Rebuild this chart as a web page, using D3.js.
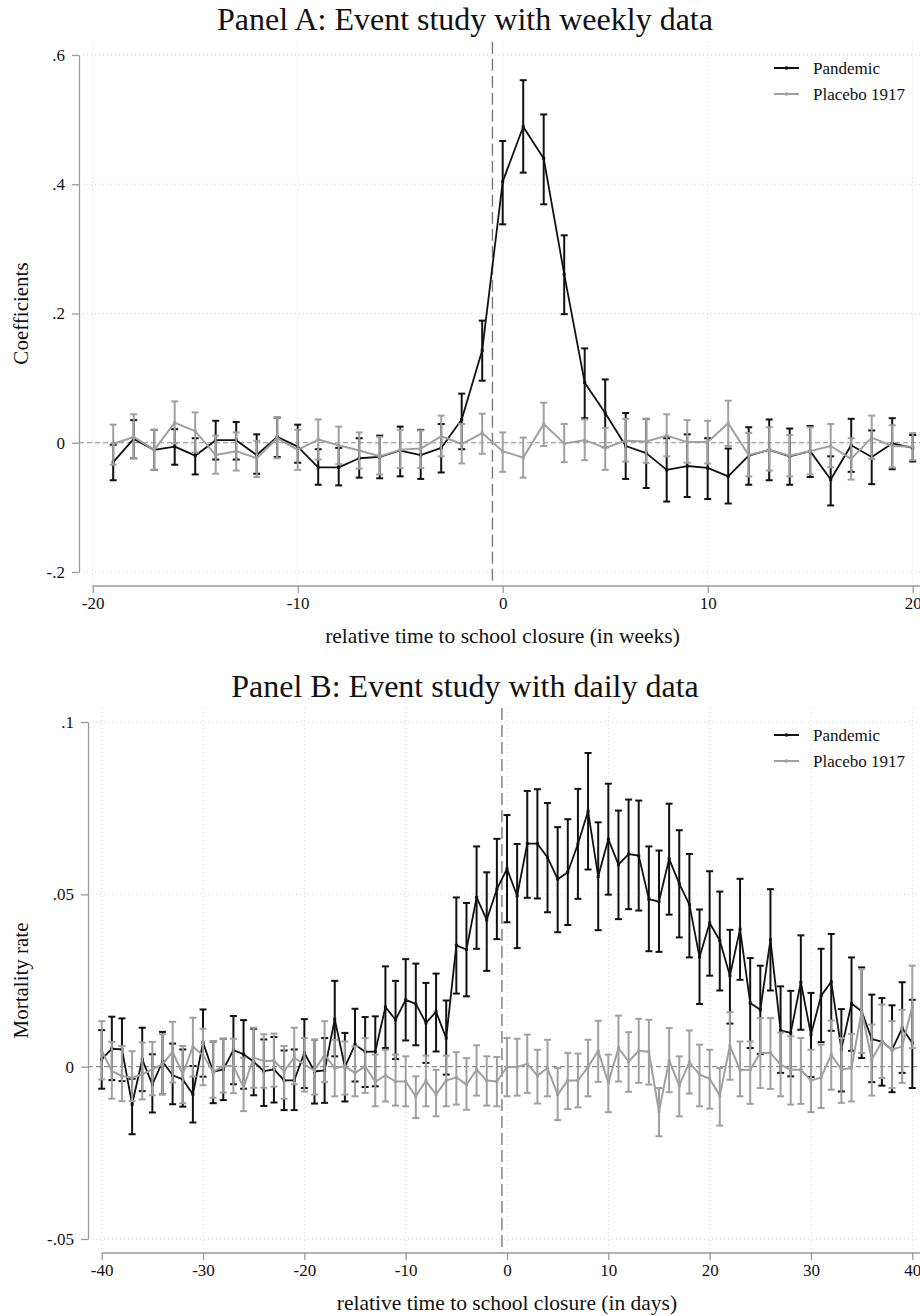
<!DOCTYPE html>
<html>
<head>
<meta charset="utf-8">
<script src="https://cdn.jsdelivr.net/npm/d3@7"></script>
<style>
  body { margin: 0; background: #fff; }
  text { font-family: "Liberation Serif", "Times New Roman", serif; fill: #111; }
</style>
</head>
<body>
<svg id="chart" width="920" height="1316"></svg>
<script>
// event time (weeks / days relative to school closure)
var weeks = [-19, -18, -17, -16, -15, -14, -13, -12, -11, -10, -9, -8, -7, -6, -5, -4, -3, -2, -1,
    0, 1, 2, 3, 4, 5, 6, 7, 8, 9, 10, 11, 12, 13, 14, 15, 16, 17, 18, 19, 20];
var days = [-40, -39, -38, -37, -36, -35, -34, -33, -32, -31, -30, -29, -28, -27, -26, -25, -24, -23, -22, -21,
    -20, -19, -18, -17, -16, -15, -14, -13, -12, -11, -10, -9, -8, -7, -6, -5, -4, -3, -2, -1,
    0, 1, 2, 3, 4, 5, 6, 7, 8, 9, 10, 11, 12, 13, 14, 15, 16, 17, 18, 19, 20,
    21, 22, 23, 24, 25, 26, 27, 28, 29, 30, 31, 32, 33, 34, 35, 36, 37, 38, 39, 40];

// Panel A: weekly coefficients
var weeklyPandemic = [-0.030, 0.006, -0.011, -0.006, -0.020, 0.004, 0.004, -0.019, 0.009, -0.006, -0.038, -0.038, -0.024, -0.022, -0.012, -0.019, -0.008, 0.036, 0.143,
    0.404, 0.489, 0.440, 0.261, 0.093, 0.046, -0.005, -0.016, -0.042, -0.036, -0.039, -0.052, -0.020, -0.011, -0.021, -0.013, -0.057, -0.004, -0.022, -0.001, -0.008];
var weeklyPandemicHi = [-0.003, 0.035, 0.020, 0.021, 0.007, 0.034, 0.032, 0.013, 0.039, 0.028, -0.010, -0.008, 0.007, 0.011, 0.025, 0.020, 0.029, 0.076, 0.189,
    0.467, 0.561, 0.508, 0.321, 0.146, 0.098, 0.046, 0.037, 0.007, 0.013, 0.007, -0.009, 0.024, 0.036, 0.022, 0.026, -0.021, 0.037, 0.019, 0.038, 0.012];
var weeklyPandemicLo = [-0.058, -0.024, -0.042, -0.034, -0.049, -0.026, -0.026, -0.048, -0.022, -0.031, -0.065, -0.066, -0.054, -0.055, -0.052, -0.056, -0.046, -0.010, 0.096,
    0.338, 0.418, 0.369, 0.199, 0.038, -0.007, -0.056, -0.070, -0.091, -0.084, -0.087, -0.094, -0.065, -0.058, -0.065, -0.053, -0.097, -0.045, -0.064, -0.041, -0.029];

var weeklyPlacebo = [-0.002, 0.009, -0.011, 0.031, 0.018, -0.019, -0.013, -0.024, 0.007, -0.011, 0.005, -0.004, -0.012, -0.021, -0.011, -0.009, 0.010, -0.002, 0.015,
    -0.013, -0.023, 0.029, -0.001, 0.004, -0.008, 0.003, 0.002, 0.011, 0.001, 0.001, 0.030, -0.019, -0.011, -0.020, -0.013, -0.005, -0.025, 0.008, -0.005, -0.006];
var weeklyPlaceboHi = [0.028, 0.044, 0.020, 0.064, 0.047, 0.011, 0.016, 0.003, 0.039, 0.020, 0.036, 0.025, 0.016, 0.009, 0.020, 0.019, 0.042, 0.029, 0.045,
    0.016, 0.008, 0.062, 0.029, 0.036, 0.023, 0.037, 0.037, 0.044, 0.035, 0.034, 0.065, 0.015, 0.024, 0.012, 0.024, 0.029, 0.007, 0.042, 0.027, 0.015];
var weeklyPlaceboLo = [-0.034, -0.024, -0.042, -0.001, -0.015, -0.048, -0.043, -0.053, -0.024, -0.042, -0.026, -0.033, -0.040, -0.049, -0.039, -0.039, -0.021, -0.032, -0.017,
    -0.045, -0.054, -0.005, -0.030, -0.027, -0.042, -0.029, -0.031, -0.021, -0.031, -0.032, -0.005, -0.052, -0.043, -0.052, -0.049, -0.038, -0.057, -0.025, -0.038, -0.027];

// Panel B: daily mortality rate
var dailyPandemic = [0.0021, 0.0052, 0.0050, -0.0109, 0.0021, -0.0052, 0.0015, -0.0025, -0.0037, -0.0080, 0.0070, -0.0015, -0.0008, 0.0048, 0.0036, 0.0014, -0.0013, -0.0008, -0.0040, -0.0040,
    0.0040, -0.0014, -0.0011, 0.0138, -0.0001, 0.0064, 0.0043, 0.0044, 0.0173, 0.0136, 0.0194, 0.0182, 0.0127, 0.0159, 0.0083, 0.0352, 0.0340, 0.0491, 0.0426, 0.0515,
    0.0574, 0.0496, 0.0647, 0.0647, 0.0607, 0.0544, 0.0564, 0.0646, 0.0741, 0.0552, 0.0660, 0.0586, 0.0617, 0.0612, 0.0486, 0.0479, 0.0603, 0.0531, 0.0470, 0.0318, 0.0417,
    0.0366, 0.0264, 0.0399, 0.0185, 0.0165, 0.0368, 0.0105, 0.0098, 0.0245, 0.0093, 0.0206, 0.0246, 0.0051, 0.0183, 0.0161, 0.0080, 0.0073, 0.0049, 0.0112, 0.0069];
var dailyPandemicHi = [0.0106, 0.0145, 0.0140, -0.0035, 0.0113, 0.0036, 0.0101, 0.0067, 0.0050, 0.0002, 0.0166, 0.0073, 0.0081, 0.0147, 0.0135, 0.0110, 0.0079, 0.0086, 0.0047, 0.0050,
    0.0138, 0.0078, 0.0083, 0.0249, 0.0098, 0.0168, 0.0144, 0.0146, 0.0291, 0.0249, 0.0312, 0.0299, 0.0243, 0.0270, 0.0192, 0.0491, 0.0475, 0.0639, 0.0564, 0.0661,
    0.0730, 0.0646, 0.0800, 0.0805, 0.0765, 0.0695, 0.0718, 0.0806, 0.0910, 0.0709, 0.0821, 0.0743, 0.0775, 0.0772, 0.0639, 0.0627, 0.0763, 0.0686, 0.0617, 0.0456, 0.0567,
    0.0508, 0.0397, 0.0545, 0.0315, 0.0293, 0.0515, 0.0233, 0.0220, 0.0381, 0.0214, 0.0342, 0.0385, 0.0167, 0.0317, 0.0288, 0.0209, 0.0199, 0.0178, 0.0245, 0.0194];
var dailyPandemicLo = [-0.0064, -0.0039, -0.0042, -0.0196, -0.0071, -0.0133, -0.0080, -0.0109, -0.0116, -0.0162, -0.0029, -0.0106, -0.0097, -0.0051, -0.0064, -0.0083, -0.0114, -0.0104, -0.0126, -0.0126,
    -0.0062, -0.0107, -0.0105, 0.0030, -0.0101, -0.0043, -0.0059, -0.0057, 0.0054, 0.0022, 0.0076, 0.0062, 0.0011, 0.0044, -0.0023, 0.0212, 0.0204, 0.0342, 0.0278, 0.0370,
    0.0419, 0.0344, 0.0490, 0.0488, 0.0448, 0.0390, 0.0411, 0.0487, 0.0572, 0.0396, 0.0499, 0.0428, 0.0457, 0.0453, 0.0335, 0.0333, 0.0441, 0.0375, 0.0317, 0.0182, 0.0264,
    0.0221, 0.0125, 0.0252, 0.0054, 0.0037, 0.0221, -0.0018, -0.0028, 0.0107, -0.0030, 0.0071, 0.0104, -0.0072, 0.0046, 0.0025, -0.0045, -0.0055, -0.0074, -0.0018, -0.0062];

var dailyPlacebo = [0.0047, -0.0013, -0.0027, -0.0032, -0.0022, -0.0008, 0.0007, 0.0043, -0.0022, 0.0058, 0.0033, -0.0015, 0.0002, 0.0002, -0.0060, 0.0026, 0.0016, 0.0018, -0.0013, 0.0026,
    0.0006, -0.0011, 0.0035, -0.0004, 0.0001, -0.0018, 0.0001, -0.0044, -0.0025, -0.0043, -0.0043, -0.0086, -0.0041, -0.0081, -0.0040, -0.0031, -0.0052, -0.0009, -0.0040, -0.0043,
    -0.0001, -0.0001, 0.0008, -0.0026, -0.0004, -0.0081, -0.0040, -0.0040, -0.0001, 0.0046, -0.0047, 0.0054, 0.0015, 0.0046, 0.0043, -0.0130, 0.0018, -0.0055, 0.0013, -0.0023, -0.0035,
    -0.0084, 0.0061, -0.0010, -0.0009, 0.0040, 0.0040, 0.0006, -0.0009, -0.0009, -0.0040, -0.0031, 0.0035, -0.0009, -0.0004, 0.0161, 0.0020, 0.0073, 0.0049, 0.0059, 0.0175];
var dailyPlaceboHi = [0.0132, 0.0072, 0.0060, 0.0045, 0.0070, 0.0072, 0.0094, 0.0130, 0.0060, 0.0142, 0.0110, 0.0074, 0.0081, 0.0081, 0.0026, 0.0113, 0.0094, 0.0096, 0.0060, 0.0113,
    0.0083, 0.0078, 0.0132, 0.0078, 0.0073, 0.0059, 0.0083, 0.0035, 0.0049, 0.0035, 0.0030, -0.0028, 0.0032, -0.0009, 0.0032, 0.0042, 0.0025, 0.0062, 0.0030, 0.0028,
    0.0083, 0.0081, 0.0093, 0.0049, 0.0078, -0.0004, 0.0040, 0.0038, 0.0078, 0.0133, 0.0035, 0.0148, 0.0100, 0.0139, 0.0136, -0.0062, 0.0112, 0.0030, 0.0105, 0.0064, 0.0049,
    -0.0004, 0.0158, 0.0073, 0.0073, 0.0141, 0.0141, 0.0099, 0.0088, 0.0083, 0.0049, 0.0064, 0.0134, 0.0083, 0.0095, 0.0283, 0.0122, 0.0180, 0.0132, 0.0165, 0.0293];
var dailyPlaceboLo = [-0.0037, -0.0093, -0.0100, -0.0100, -0.0095, -0.0083, -0.0080, -0.0046, -0.0106, -0.0029, -0.0054, -0.0090, -0.0075, -0.0077, -0.0129, -0.0061, -0.0061, -0.0058, -0.0093, -0.0051,
    -0.0072, -0.0081, -0.0045, -0.0086, -0.0081, -0.0086, -0.0076, -0.0115, -0.0101, -0.0113, -0.0115, -0.0149, -0.0115, -0.0144, -0.0115, -0.0110, -0.0125, -0.0084, -0.0113, -0.0115,
    -0.0086, -0.0084, -0.0076, -0.0107, -0.0086, -0.0155, -0.0123, -0.0118, -0.0086, -0.0044, -0.0132, -0.0043, -0.0073, -0.0047, -0.0052, -0.0202, -0.0074, -0.0144, -0.0078, -0.0115, -0.0122,
    -0.0171, -0.0038, -0.0086, -0.0108, -0.0062, -0.0065, -0.0086, -0.0110, -0.0108, -0.0132, -0.0120, -0.0067, -0.0105, -0.0101, 0.0040, -0.0084, -0.0033, -0.0062, -0.0047, 0.0054];

// tick labels
var weekTicks = [-20, -10, 0, 10, 20];
var dayTicks = [-40, -30, -20, -10, 0, 10, 20, 30, 40];
var coefTicks = [-0.2, 0, 0.2, 0.4, 0.6];
var rateTicks = [-0.05, 0, 0.05, 0.1];
var seriesNames = ["Pandemic", "Placebo 1917"];

var BLACK = "#111";
var GRAY = "#a0a0a0";
var AXIS = "#9a9a9a";

var svg = d3.select("#chart");
svg.append("rect").attr("width", 920).attr("height", 1316).attr("fill", "#fff");

// stata style labels: .6, -.2, .05
function stataNum(d) {
    if (d === 0) return "0";
    return String(+d.toFixed(3)).replace(/^(-?)0\./, "$1.");
}

function zip(t, v, lo, hi) {
    return t.map((d, i) => ({ t: d, v: v[i], lo: lo[i], hi: hi[i] }));
}

function drawPanel(cfg) {
    var g = svg.append("g");
    var x = d3.scaleLinear().domain(cfg.xDomain).range(cfg.xRange);
    var y = d3.scaleLinear().domain(cfg.yDomain).range(cfg.yRange);

    // dotted grid
    g.append("g")
        .selectAll("line")
        .data(cfg.xTicks)
        .join("line")
        .attr("x1", d => x(d)).attr("x2", d => x(d))
        .attr("y1", cfg.top).attr("y2", cfg.axisY)
        .attr("stroke", "#c8c8c8").attr("stroke-width", 0.8)
        .attr("stroke-dasharray", "1,3");
    g.append("g")
        .selectAll("line")
        .data(cfg.yTicks.filter(d => d !== 0))
        .join("line")
        .attr("x1", cfg.axisX).attr("x2", cfg.right)
        .attr("y1", d => y(d)).attr("y2", d => y(d))
        .attr("stroke", "#c8c8c8").attr("stroke-width", 0.8)
        .attr("stroke-dasharray", "1,3");

    // zero line + closure line
    g.append("line")
        .attr("x1", cfg.axisX).attr("x2", cfg.right)
        .attr("y1", y(0)).attr("y2", y(0))
        .attr("stroke", "#8a8a8a").attr("stroke-width", 1.1)
        .attr("stroke-dasharray", "5,3");
    g.append("line")
        .attr("x1", x(-0.5)).attr("x2", x(-0.5))
        .attr("y1", cfg.top).attr("y2", cfg.axisY)
        .attr("stroke", "#7a7a7a").attr("stroke-width", 1.4)
        .attr("stroke-dasharray", "12,5");

    // axes
    var yAxis = g.append("g")
        .attr("transform", "translate(" + cfg.axisX + ",0)")
        .call(d3.axisLeft(y).tickValues(cfg.yTicks).tickFormat(stataNum).tickSize(7).tickSizeOuter(0).tickPadding(7));
    var xAxis = g.append("g")
        .attr("transform", "translate(0," + cfg.axisY + ")")
        .call(d3.axisBottom(x).tickValues(cfg.xTicks).tickFormat(d => String(d)).tickSize(7).tickSizeOuter(0).tickPadding(4));
    [xAxis, yAxis].forEach(a => {
        a.select(".domain").attr("stroke", AXIS).attr("stroke-width", 1.3);
        a.selectAll(".tick line").attr("stroke", AXIS).attr("stroke-width", 1.3);
        a.selectAll(".tick text")
            .attr("font-family", "Liberation Serif")
            .attr("font-size", 17)
            .attr("fill", "#111");
    });
    xAxis.select(".domain").attr("d", "M" + cfg.xRange[0] + ",0H" + cfg.right);

    // series: pandemic first, placebo on top
    cfg.series.forEach(s => {
        var sg = g.append("g");
        sg.selectAll("line.bar")
            .data(s.data)
            .join("line")
            .attr("class", "bar")
            .attr("x1", d => x(d.t)).attr("x2", d => x(d.t))
            .attr("y1", d => y(d.lo)).attr("y2", d => y(d.hi))
            .attr("stroke", s.color).attr("stroke-width", 2);
        ["lo", "hi"].forEach(k => {
            sg.selectAll("line.cap-" + k)
                .data(s.data)
                .join("line")
                .attr("class", "cap-" + k)
                .attr("x1", d => x(d.t) - 3.5).attr("x2", d => x(d.t) + 3.5)
                .attr("y1", d => y(d[k])).attr("y2", d => y(d[k]))
                .attr("stroke", s.color).attr("stroke-width", 2);
        });
        sg.append("path")
            .datum(s.data)
            .attr("fill", "none")
            .attr("stroke", s.color)
            .attr("stroke-width", s.width)
            .attr("stroke-linejoin", "round")
            .attr("d", d3.line().x(d => x(d.t)).y(d => y(d.v)));
        sg.selectAll("rect.pt")
            .data(s.data)
            .join("rect")
            .attr("class", "pt")
            .attr("x", d => x(d.t) - 1.5).attr("y", d => y(d.v) - 1.5)
            .attr("width", 3).attr("height", 3)
            .attr("fill", s.color);
    });

    // legend
    var lg = g.append("g").attr("transform", "translate(774," + (y(cfg.yDomain[1]) + 13) + ")");
    cfg.series.forEach((s, i) => {
        var row = lg.append("g").attr("transform", "translate(0," + i * 26 + ")");
        row.append("line").attr("x1", 0).attr("x2", 25)
            .attr("stroke", s.color).attr("stroke-width", 2);
        row.append("rect").attr("x", 11).attr("y", -1.5).attr("width", 3).attr("height", 3)
            .attr("fill", s.color);
        row.append("text").attr("x", 39).attr("dy", "0.35em")
            .attr("font-size", 17).text(s.name);
    });

    // titles
    g.append("text")
        .attr("x", 465).attr("y", cfg.titleY)
        .attr("text-anchor", "middle")
        .attr("font-size", 32)
        .text(cfg.title);
    g.append("text")
        .attr("x", (cfg.axisX + cfg.right) / 2).attr("y", cfg.axisY + 57)
        .attr("text-anchor", "middle")
        .attr("font-size", 21.5)
        .text(cfg.xTitle);
    g.append("text")
        .attr("transform", "translate(28," + (cfg.yRange[0] + cfg.yRange[1]) / 2 + ") rotate(-90)")
        .attr("text-anchor", "middle")
        .attr("font-size", 21)
        .text(cfg.yTitle);
}

drawPanel({
    title: "Panel A: Event study with weekly data",
    xTitle: "relative time to school closure (in weeks)",
    yTitle: "Coefficients",
    xDomain: [-20, 20], xRange: [92.7, 912.7],
    yDomain: [-0.2, 0.6], yRange: [572, 55],
    xTicks: weekTicks, yTicks: coefTicks,
    axisX: 79, axisY: 586, top: 41.7, right: 926, titleY: 30,
    series: [
        { name: seriesNames[0], color: BLACK, width: 1.8, data: zip(weeks, weeklyPandemic, weeklyPandemicLo, weeklyPandemicHi) },
        { name: seriesNames[1], color: GRAY, width: 2, data: zip(weeks, weeklyPlacebo, weeklyPlaceboLo, weeklyPlaceboHi) }
    ]
});

drawPanel({
    title: "Panel B: Event study with daily data",
    xTitle: "relative time to school closure (in days)",
    yTitle: "Mortality rate",
    xDomain: [-40, 40], xRange: [101.7, 912.3],
    yDomain: [-0.05, 0.1], yRange: [1239, 722],
    xTicks: dayTicks, yTicks: rateTicks,
    axisX: 88, axisY: 1253, top: 708, right: 926, titleY: 697,
    series: [
        { name: seriesNames[0], color: BLACK, width: 1.8, data: zip(days, dailyPandemic, dailyPandemicLo, dailyPandemicHi) },
        { name: seriesNames[1], color: GRAY, width: 2, data: zip(days, dailyPlacebo, dailyPlaceboLo, dailyPlaceboHi) }
    ]
});
</script>
</body>
</html>
